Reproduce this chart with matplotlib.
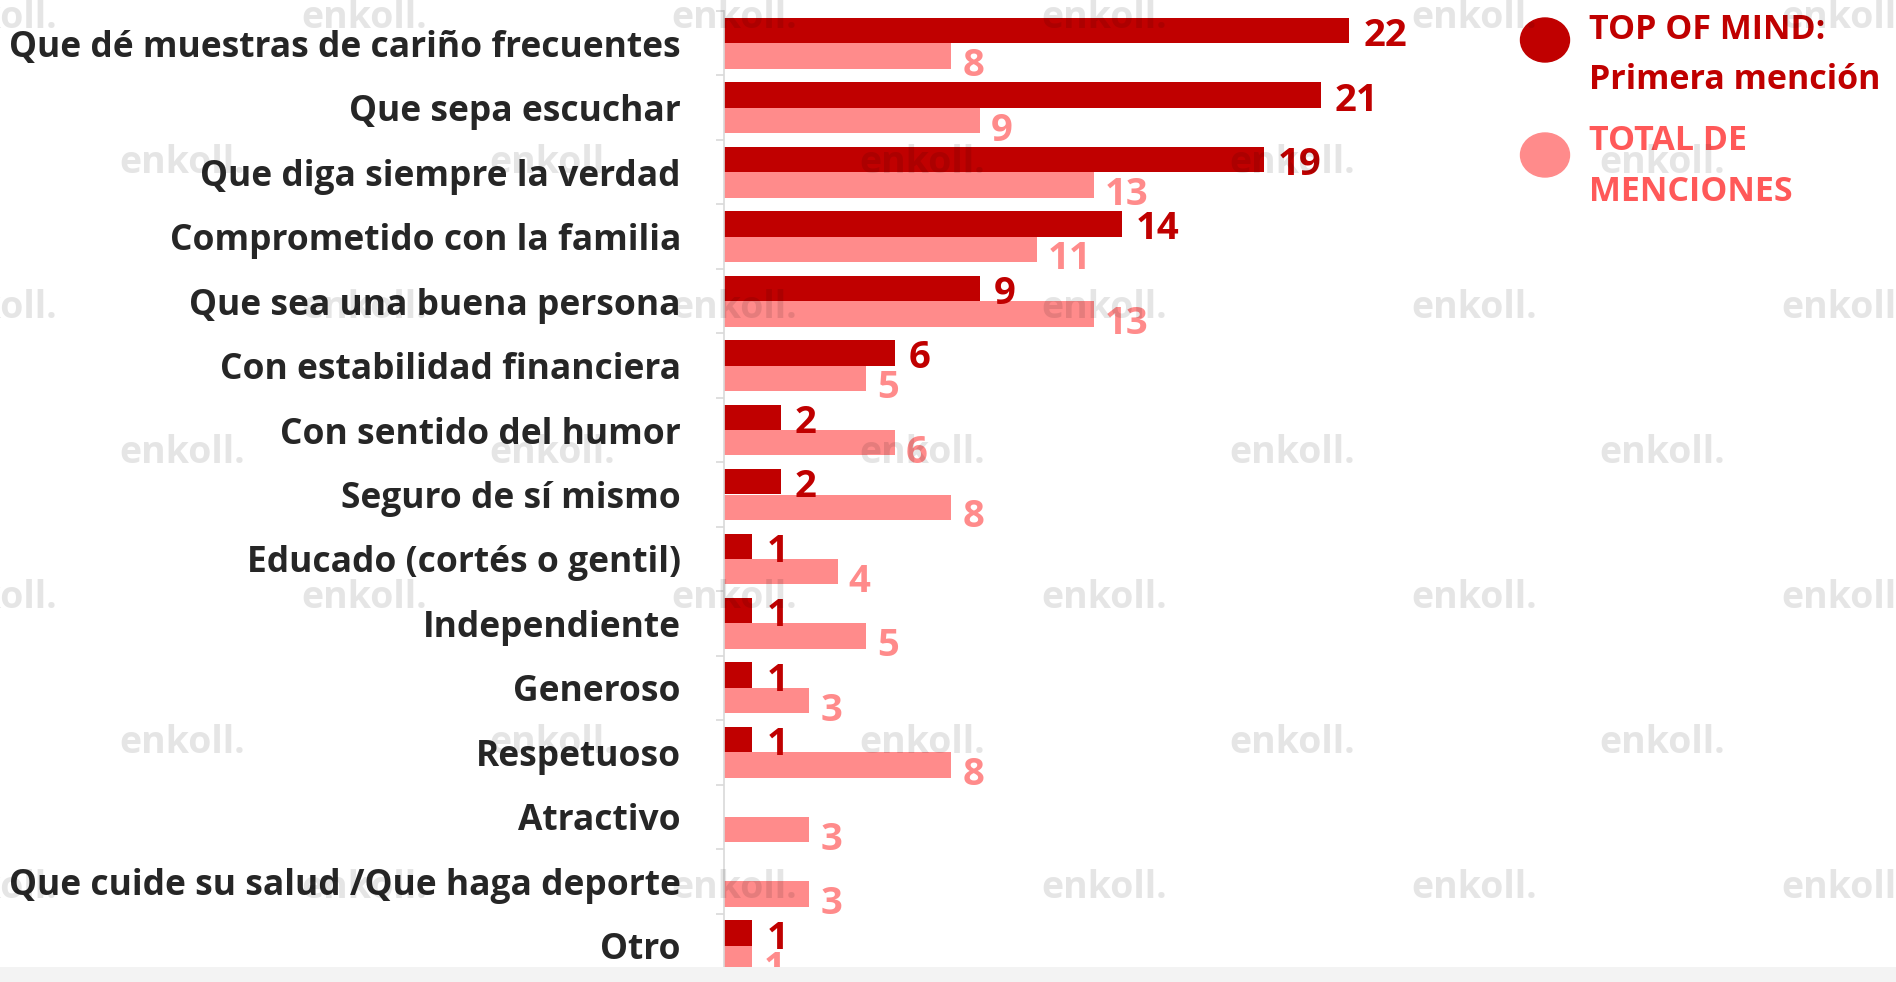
import numpy as np
import matplotlib
matplotlib.use("Agg")
import matplotlib.pyplot as plt
from matplotlib.patches import Ellipse, Rectangle

# ---------------- data ----------------
categories = [
    "Que dé muestras de cariño frecuentes",
    "Que sepa escuchar",
    "Que diga siempre la verdad",
    "Comprometido con la familia",
    "Que sea una buena persona",
    "Con estabilidad financiera",
    "Con sentido del humor",
    "Seguro de sí mismo",
    "Educado (cortés o gentil)",
    "Independiente",
    "Generoso",
    "Respetuoso",
    "Atractivo",
    "Que cuide su salud /Que haga deporte",
    "Otro",
]
top_of_mind = [22, 21, 19, 14, 9, 6, 2, 2, 1, 1, 1, 1, None, None, 1]
total_menciones = [8, 9, 13, 11, 13, 5, 6, 8, 4, 5, 3, 8, 3, 3, 1]
legend_top_lines = ["TOP OF MIND:", "Primera mención"]
legend_total_lines = ["TOTAL DE", "MENCIONES"]
watermark_text = "enkoll."

# ---------------- style ----------------
W, H, DPI = 1896, 982, 100
plt.rcParams['font.family'] = ["Open Sans", "DejaVu Sans"]
DARK = "#C00000"
LIGHT = "#FF8B8B"
LIGHT_TXT = "#FF5959"
LABEL = "#262626"
GRID = "#d9d9d9"

fig = plt.figure(figsize=(W / DPI, H / DPI), dpi=DPI)
fig.patch.set_facecolor("white")
fig.patches.append(Rectangle((0, 0), 1, 15 / H, transform=fig.transFigure,
                             facecolor="#f3f3f3", edgecolor="none", zorder=0))

px_per_unit = 28.43
ax_left, ax_right, ax_top, ax_bottom = 724, 1500, 11, 978
ax = fig.add_axes([ax_left / W, 1 - ax_bottom / H,
                   (ax_right - ax_left) / W, (ax_bottom - ax_top) / H])
ax.patch.set_visible(False)

n = len(categories)
y = np.arange(n)
tom = np.array([np.nan if v is None else v for v in top_of_mind], dtype=float)
tot = np.array(total_menciones, dtype=float)
bh = 0.395
valid = ~np.isnan(tom)
ax.barh(y[valid] - bh / 2, tom[valid], height=bh, color=DARK, zorder=2)
ax.barh(y + bh / 2, tot, height=bh, color=LIGHT, zorder=2)
ax.set_xlim(0, (ax_right - ax_left) / px_per_unit)
ax.set_ylim(n - 0.5, -0.5)

VAL_FS = 27.5
for i, v in enumerate(tom):
    if np.isnan(v):
        continue
    ax.annotate(f"{v:g}", xy=(v, i - bh / 2 + 0.03), xytext=(10, -0.357 * VAL_FS),
                textcoords="offset points", ha="left", va="baseline",
                color=DARK, fontsize=VAL_FS, fontweight="bold", zorder=3)
for i, v in enumerate(tot):
    ax.annotate(f"{v:g}", xy=(v, i + bh / 2 + 0.1), xytext=(8, -0.357 * VAL_FS),
                textcoords="offset points", ha="left", va="baseline",
                color=LIGHT, fontsize=VAL_FS, fontweight="bold", zorder=3)

ax.set_yticks(y)
ax.set_yticklabels(categories, fontsize=25.5, fontweight="bold", color=LABEL)
ax.set_yticks(np.arange(-0.5, n, 1.0), minor=True)
ax.tick_params(axis="y", which="major", length=0, pad=31)
ax.tick_params(axis="y", which="minor", length=6, width=1.2, color=GRID)
ax.set_xticks([])
for s in ["top", "right", "bottom"]:
    ax.spines[s].set_visible(False)
ax.spines["left"].set_color(GRID)
ax.spines["left"].set_linewidth(1.2)

# ---------------- overlay: legend + watermark ----------------
ov = fig.add_axes([0, 0, 1, 1], zorder=5)
ov.set_xlim(0, W)
ov.set_ylim(H, 0)
ov.axis("off")
ov.patch.set_visible(False)

LEG_FS = 24.5
ov.add_patch(Ellipse((1545, 40), 49, 44, color=DARK))
ov.add_patch(Ellipse((1545, 155), 49, 44, color=LIGHT))
for k, line in enumerate(legend_top_lines):
    ov.text(1589, 39 + 50 * k, line, fontsize=LEG_FS, fontweight="bold",
            color=DARK, va="baseline", ha="left")
for k, line in enumerate(legend_total_lines):
    ov.text(1589, 150 + 51 * k, line, fontsize=LEG_FS, fontweight="bold",
            color=LIGHT_TXT, va="baseline", ha="left")

for r in range(7):
    yc = 18 + 145 * r
    x0 = -109 if r % 2 == 0 else 79
    for j in range(6):
        xl = x0 + 370 * j + 40
        if xl > W:
            continue
        ov.text(xl, yc, watermark_text, fontsize=27, fontweight="bold",
                color="black", alpha=0.1, va="center", ha="left", zorder=10)

fig.savefig("out.png", dpi=DPI, facecolor="white")
